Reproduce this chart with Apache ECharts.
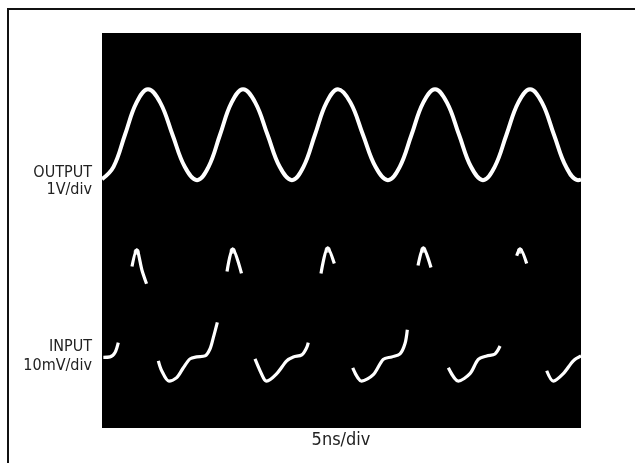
<!DOCTYPE html>
<html>
<head>
<meta charset="utf-8">
<script src="https://cdn.jsdelivr.net/npm/echarts@6/dist/echarts.min.js"></script>
<style>
html,body{margin:0;padding:0;background:#fff;}
#chart{width:635px;height:463px;}
</style>
</head>
<body>
<div id="chart"></div>
<script>
// Time axis: 5 ns/div, 10 divisions across the screen. Vertical: 8 divisions (-4..4).
var xLabel = '5ns/div';
var outputLabel = ['OUTPUT', '1V/div'];
var inputLabel = ['INPUT', '10mV/div'];

// OUTPUT trace (time in ns, position in divisions)
var outputTime = [0, 1.20, 2.40, 3.60, 4.80, 6.08, 7.36, 8.64, 9.92, 11.12, 12.32, 13.52, 14.72,
  16.00, 17.28, 18.55, 19.83, 21.03, 22.23, 23.43, 24.63, 25.94, 27.24, 28.55, 29.85,
  31.08, 32.31, 33.53, 34.76, 36.01, 37.27, 38.52, 39.77, 40.99, 42.22, 43.45, 44.68,
  45.93, 47.18, 48.44, 49.69, 50];
var outputDiv = [1.04, 1.29, 1.94, 2.59, 2.86, 2.59, 1.94, 1.29, 1.02, 1.29, 1.94, 2.59, 2.86,
  2.59, 1.94, 1.29, 1.02, 1.29, 1.94, 2.59, 2.86, 2.59, 1.94, 1.29, 1.02,
  1.29, 1.94, 2.59, 2.86, 2.59, 1.94, 1.29, 1.02, 1.29, 1.94, 2.59, 2.86,
  2.59, 1.94, 1.29, 1.02, 1.03];

// INPUT trace: visible parts only (null = trace invisible / too fast to show)
var inputTime = [0.14, 0.84, 1.36, 1.70, 1.70,
  3.13, 3.62, 4.18, 4.65, 4.65,
  5.88, 6.23, 6.99, 7.80, 8.49, 9.19, 9.89, 10.75, 11.27, 11.62, 12.04, 12.04,
  13.05, 13.64, 14.56, 14.56,
  15.97, 16.84, 17.19, 18.24, 19.28, 19.97, 20.85, 21.37, 21.53, 21.53,
  22.86, 23.56, 24.25, 24.25,
  26.17, 27.10, 28.32, 29.36, 30.24, 31.11, 31.63, 31.87, 31.87,
  32.99, 33.54, 34.34, 34.34,
  36.15, 37.19, 38.41, 39.28, 40.16, 41.02, 41.55, 41.55,
  43.29, 43.63, 44.33, 44.33,
  46.42, 47.11, 48.15, 49.20, 50.0];
var inputDiv = [-2.57, -2.56, -2.47, -2.27, null,
  -0.73, -0.39, -0.81, -1.08, null,
  -2.64, -2.84, -3.05, -2.98, -2.78, -2.60, -2.56, -2.54, -2.40, -2.17, -1.86, null,
  -0.83, -0.37, -0.87, null,
  -2.60, -2.98, -3.05, -2.90, -2.64, -2.56, -2.52, -2.37, -2.27, null,
  -0.87, -0.35, -0.67, null,
  -2.78, -3.05, -2.92, -2.61, -2.56, -2.50, -2.29, -2.01, null,
  -0.71, -0.35, -0.75, null,
  -2.78, -3.05, -2.90, -2.61, -2.54, -2.50, -2.34, null,
  -0.51, -0.37, -0.67, null,
  -2.84, -3.05, -2.90, -2.64, -2.54];

// Bright spots at the tips of the input spikes
var spikeTime = [3.62, 13.64, 23.56, 33.54, 43.63];
var spikeDiv = [-0.43, -0.41, -0.39, -0.39, -0.41];

function pairs(xs, ys) {
  return xs.map(function (x, i) { return [x, ys[i] === null ? '-' : ys[i]]; });
}

var chart = echarts.init(document.getElementById('chart'), null, {renderer: 'canvas'});
var font = '"Liberation Sans Narrow", "DejaVu Sans Condensed", "Roboto", sans-serif';
var txtL = {fontFamily: font, fontSize: 16, fill: '#222'};
var txtB = {fontFamily: font, fontSize: 18, fill: '#222'};

chart.setOption({
  animation: false,
  backgroundColor: '#fff',
  grid: {left: 102, top: 33, right: 54, bottom: 35, show: true, backgroundColor: '#000', borderWidth: 0},
  xAxis: {type: 'value', min: 0, max: 50, interval: 5, show: false},
  yAxis: {type: 'value', min: -4, max: 4, interval: 1, show: false},
  graphic: [
    {type: 'line', shape: {x1: 8, y1: 9, x2: 8, y2: 463}, style: {stroke: '#111', lineWidth: 2}},
    {type: 'line', shape: {x1: 7, y1: 9, x2: 635, y2: 9}, style: {stroke: '#111', lineWidth: 2}},
    {type: 'text', x: 92, y: 173, style: Object.assign({text: outputLabel[0], align: 'right', verticalAlign: 'middle'}, txtL)},
    {type: 'text', x: 92, y: 190, style: Object.assign({text: outputLabel[1], align: 'right', verticalAlign: 'middle'}, txtL)},
    {type: 'text', x: 92, y: 347, style: Object.assign({text: inputLabel[0], align: 'right', verticalAlign: 'middle'}, txtL)},
    {type: 'text', x: 92, y: 366, style: Object.assign({text: inputLabel[1], align: 'right', verticalAlign: 'middle'}, txtL)},
    {type: 'text', x: 341, y: 440, style: Object.assign({text: xLabel, align: 'center', verticalAlign: 'middle'}, txtB)}
  ],
  series: [
    {
      name: 'OUTPUT', type: 'line', data: pairs(outputTime, outputDiv),
      smooth: 0.4, symbol: 'none', lineStyle: {color: '#fff', width: 4}
    },
    {
      name: 'INPUT', type: 'line', data: pairs(inputTime, inputDiv), connectNulls: false,
      smooth: 0.3, symbol: 'none', lineStyle: {color: '#fff', width: 3.2}
    },
    {
      name: 'INPUT tips', type: 'scatter', data: pairs(spikeTime, spikeDiv),
      symbol: 'circle', symbolSize: 6, itemStyle: {color: '#fff'}
    }
  ]
});
</script>
</body>
</html>
